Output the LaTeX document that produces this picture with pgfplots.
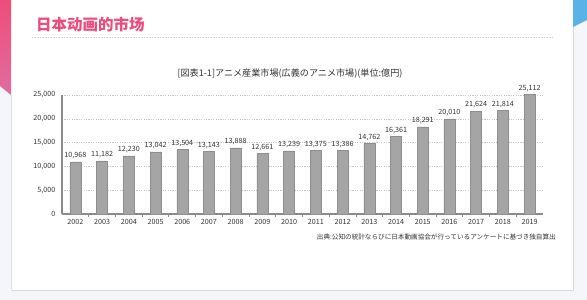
\documentclass[border=0pt]{standalone}
\usepackage{pgfplots}
\pgfplotsset{compat=1.18}
\usepackage{fontspec}
\setmainfont{Noto Sans CJK JP}
\newfontfamily\titlefont{Noto Sans CJK SC}
\definecolor{bgcol}{HTML}{F4F6F9}
\definecolor{pinktop}{HTML}{EE4D7B}
\definecolor{pinkbot}{HTML}{E06C9F}
\definecolor{bluec}{HTML}{5BB2E6}
\definecolor{titlepink}{HTML}{EE4A7B}
\definecolor{barcol}{HTML}{A5A5A5}
\definecolor{baredge}{HTML}{8E8E8E}
\definecolor{axcol}{HTML}{8A8A8A}
\definecolor{txt}{HTML}{333333}
\begin{document}
\begin{tikzpicture}
\useasboundingbox (0pt,0pt) rectangle (587pt,-300pt);
\fill[bgcol] (0pt,0pt) rectangle (587pt,-300pt);
% card shadow and card
\fill[black!15] (11.5pt,-1pt) rectangle (574pt,-291.2pt);
\fill[white] (11pt,0pt) rectangle (573pt,-290pt);
\draw[black!12, line width=0.6pt] (11pt,-95pt) -- (11pt,-290pt);
% pink stripe
\shade[top color=pinktop, bottom color=pinkbot] (0pt,0pt) -- (11pt,0pt) -- (11pt,-95pt) -- (0pt,-86pt) -- cycle;
% blue corner
\fill[bluec] (573pt,0pt) -- (587pt,0pt) -- (587pt,-20pt) -- (573pt,-27pt) -- cycle;
% title
\node[anchor=west, inner sep=0pt, text=titlepink, font=\titlefont\bfseries\fontsize{15.5pt}{16pt}\selectfont] at (36pt,-25pt) {日本动画的市场};
\draw[black!18, densely dotted, line width=0.6pt] (32pt,-37pt) -- (553pt,-37pt);
% chart title
\node[inner sep=0pt, text=txt, font=\fontsize{9.1pt}{10pt}\selectfont] at (290pt,-74pt) {[図表1-1]アニメ産業市場(広義のアニメ市場)(単位:億円)};
% source
\node[anchor=east, inner sep=0pt, text=txt, font=\fontsize{6.6pt}{7pt}\selectfont] at (556pt,-237pt) {出典:公知の統計ならびに日本動画協会が行っているアンケートに基づき独自算出};
\begin{axis}[
  at={(62pt,-214pt)}, anchor=south west,
  scale only axis, width=481pt, height=119pt,
  clip=false,
  xmin=-0.5, xmax=17.5, ymin=0, ymax=25000,
  axis x line*=bottom, axis y line*=left,
  axis line style={axcol, line width=1.4pt, -},
  /pgf/number format/assume math mode=true,
  /pgf/number format/1000 sep={,},
  scaled y ticks=false,
  ytick={0,5000,10000,15000,20000,25000},
  ymajorgrids, grid style={black!22, dash pattern=on 1.2pt off 1.2pt, line width=0.4pt},
  xtick={0,...,17},
  xticklabels={2002,2003,2004,2005,2006,2007,2008,2009,2010,2011,2012,2013,2014,2015,2016,2017,2018,2019},
  minor xtick={0.5,1.5,...,16.5},
  major tick length=0pt, minor tick length=2.5pt,
  xtick align=inside,
  minor tick style={axcol, line width=0.8pt},
  tick label style={font=\fontsize{7.2pt}{8pt}\selectfont, text=txt},
  yticklabel style={xshift=-3pt},
  xticklabel style={yshift=-1.5pt},
  ybar, bar width=11pt,
  nodes near coords,
  every node near coord/.append style={font=\fontsize{7.2pt}{8pt}\selectfont, text=txt, inner sep=2.5pt},
]
\addplot[fill=barcol, draw=baredge, line width=0.5pt] coordinates {
(0,10968) (1,11182) (2,12230) (3,13042) (4,13504) (5,13143) (6,13888) (7,12661) (8,13239)
(9,13375) (10,13386) (11,14762) (12,16361) (13,18291) (14,20010) (15,21624) (16,21814) (17,25112)
};
\end{axis}
\end{tikzpicture}
\end{document}
